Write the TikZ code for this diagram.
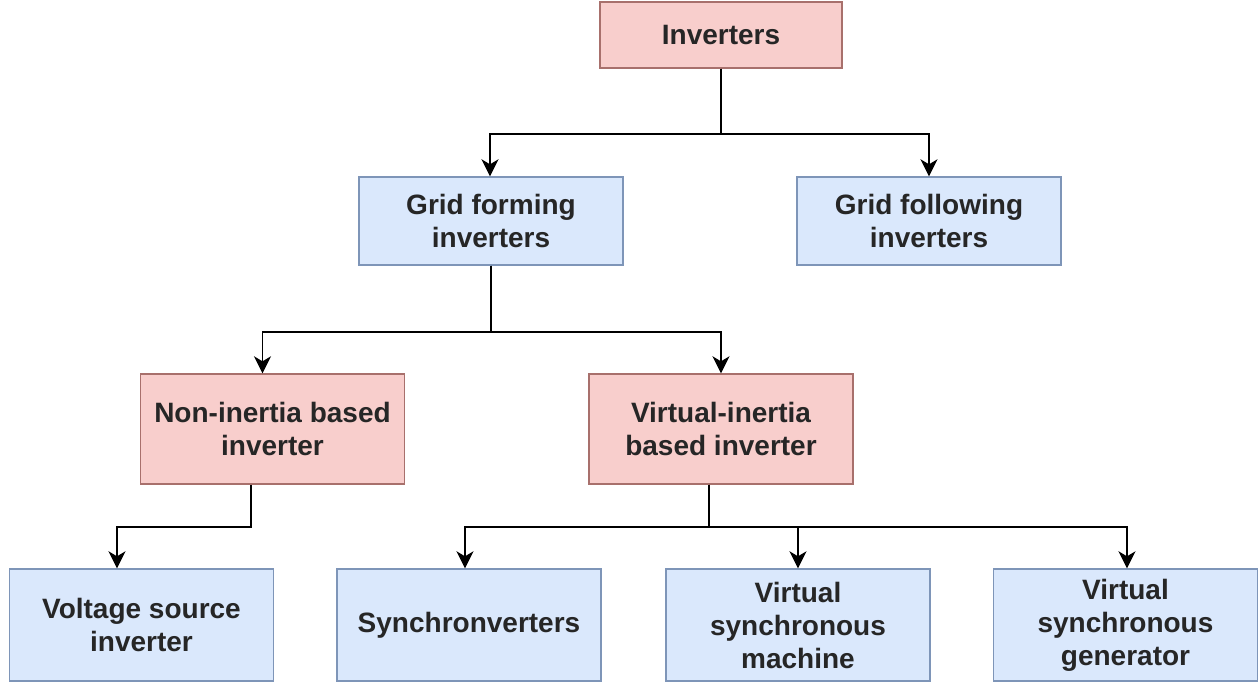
\documentclass[tikz,border=0pt]{standalone}
\usepackage{fontspec}
\setmainfont{Liberation Sans}
\usetikzlibrary{arrows.meta}
\definecolor{pinkfill}{HTML}{F8CECC}
\definecolor{pinkline}{HTML}{A8706C}
\definecolor{bluefill}{HTML}{DAE8FC}
\definecolor{blueline}{HTML}{7E95B8}
\definecolor{textgray}{HTML}{262626}

\begin{document}
\begin{tikzpicture}[x=1pt,y=-1pt,
  box/.style={line width=1.4pt,minimum width=264pt,align=center,text=textgray,
    font=\bfseries\fontsize{28}{33}\selectfont,inner sep=0pt},
  redbox/.style={box,draw=pinkline,fill=pinkfill},
  bluebox/.style={box,draw=blueline,fill=bluefill},
  link/.style={draw=black,line width=1.7pt,-{Stealth[length=17pt,width=17pt,inset=5pt]}}]
\useasboundingbox (0,0) rectangle (1260,682);
\node[redbox,minimum width=242pt,minimum height=66pt] (inv) at (721,35) {Inverters};
\node[bluebox,minimum height=88pt] (gfm) at (491,221) {Grid forming\\inverters};
\node[bluebox,minimum height=88pt] (gfl) at (929,221) {Grid following\\inverters};
\node[redbox,minimum height=110pt] (nonin) at (272.5,429) {Non-inertia based\\inverter};
\node[redbox,minimum height=110pt] (virin) at (721,429) {Virtual-inertia\\based inverter};
\node[bluebox,minimum height=112pt] (vsi) at (141.5,625) {Voltage source\\inverter};
\node[bluebox,minimum height=112pt] (syn) at (469,625) {Synchronverters};
\node[bluebox,minimum height=112pt] (vsm) at (798,625) {Virtual\\synchronous\\machine};
\node[bluebox,minimum height=112pt] (vsg) at (1125.5,625) {Virtual\\synchronous\\generator};
\draw[link] (inv.south) -- ++(0,65) -| ([xshift=-1pt]gfm.north);
\draw[link] (inv.south) -- ++(0,65) -| (gfl.north);
\draw[link] (gfm.south) -- ++(0,66) -| ([xshift=-10pt]nonin.north);
\draw[link] (gfm.south) -- ++(0,66) -| (virin.north);
\draw[link] ([xshift=-21.5pt]nonin.south) -- ++(0,42) -| ([xshift=-24.5pt]vsi.north);
\draw[link] ([xshift=-12pt]virin.south) -- ++(0,42) -| ([xshift=-4pt]syn.north);
\draw[link] ([xshift=-12pt]virin.south) -- ++(0,42) -| (vsm.north);
\draw[link] ([xshift=-12pt]virin.south) -- ++(0,42) -| ([xshift=1.5pt]vsg.north);
\end{tikzpicture}
\end{document}
